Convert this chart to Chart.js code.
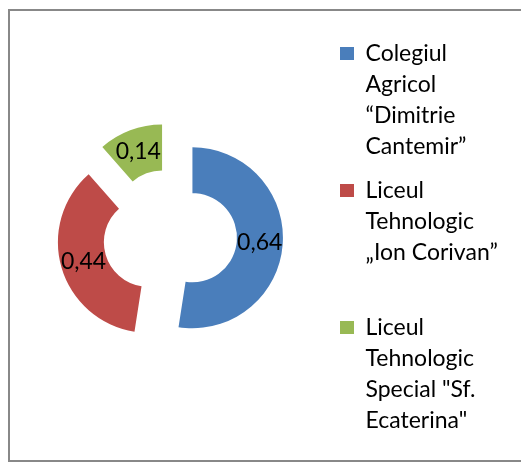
<!DOCTYPE html>
<html>
<head>
<meta charset="utf-8">
<script src="https://cdn.jsdelivr.net/npm/chart.js@4/dist/chart.umd.min.js"></script>
<style>
  html, body { margin: 0; padding: 0; background: #fff; overflow: hidden; }
</style>
</head>
<body>
<canvas id="myChart" width="521" height="463"></canvas>
<script>
// categories (legend lines) and values
const schoolNames = [
    ['Colegiul', 'Agricol', '\u201CDimitrie', 'Cantemir\u201D'],
    ['Liceul', 'Tehnologic', '\u201EIon Corivan\u201D', ''],
    ['Liceul', 'Tehnologic', 'Special "Sf.', 'Ecaterina"']
];
const scores = [0.64, 0.44, 0.14];
const sliceColors = ['#4A7EBB', '#BE4B48', '#98B954'];

const EXPLODE = 22.5;
const FONT = 'Lato';

// grey frame (top, left, bottom - the right side is off the page)
const framePlugin = {
    id: 'frame',
    beforeDraw(chart) {
        const ctx = chart.ctx;
        ctx.save();
        ctx.strokeStyle = '#888888';
        ctx.lineWidth = 2;
        ctx.beginPath();
        ctx.moveTo(530, 10);
        ctx.lineTo(9, 10);
        ctx.lineTo(9, 461);
        ctx.lineTo(530, 461);
        ctx.stroke();
        ctx.restore();
    }
};

// draws each slice pulled out from the centre, plus its value
const explodePlugin = {
    id: 'explode',
    beforeDatasetDraw(chart, args) {
        const ctx = chart.ctx;
        args.meta.data.forEach((arc, i) => {
            const mid = (arc.startAngle + arc.endAngle) / 2;
            ctx.save();
            ctx.translate(Math.cos(mid) * EXPLODE, Math.sin(mid) * EXPLODE);
            arc.draw(ctx);
            const p = arc.tooltipPosition();
            ctx.fillStyle = '#000';
            ctx.font = '23px ' + FONT;
            ctx.textAlign = 'center';
            ctx.textBaseline = 'middle';
            ctx.fillText(scores[i].toFixed(2).replace('.', ','), p.x, p.y);
            ctx.restore();
        });
        return false;
    }
};

const ctx = document.getElementById('myChart');

const myChart = new Chart(ctx, { // eslint-disable-line
    type: 'doughnut',
    data: {
        labels: schoolNames,
        datasets: [
            {
                data: scores,
                backgroundColor: sliceColors,
                borderWidth: 0
            }
        ]
    },
    options: {
        responsive: false,
        animation: false,
        devicePixelRatio: 1,
        radius: 90.5,
        cutout: '49.2%',
        layout: {
            padding: { left: 13, right: 24, top: 29, bottom: 20 }
        },
        plugins: {
            tooltip: { enabled: false },
            legend: {
                position: 'right',
                align: 'start',
                maxWidth: 170,
                labels: {
                    boxWidth: 14,
                    boxHeight: 13,
                    padding: 13,
                    color: '#000',
                    font: { family: FONT, size: 23, lineHeight: 31 / 23 }
                }
            }
        }
    },
    plugins: [framePlugin, explodePlugin]
});
</script>
</body>
</html>
